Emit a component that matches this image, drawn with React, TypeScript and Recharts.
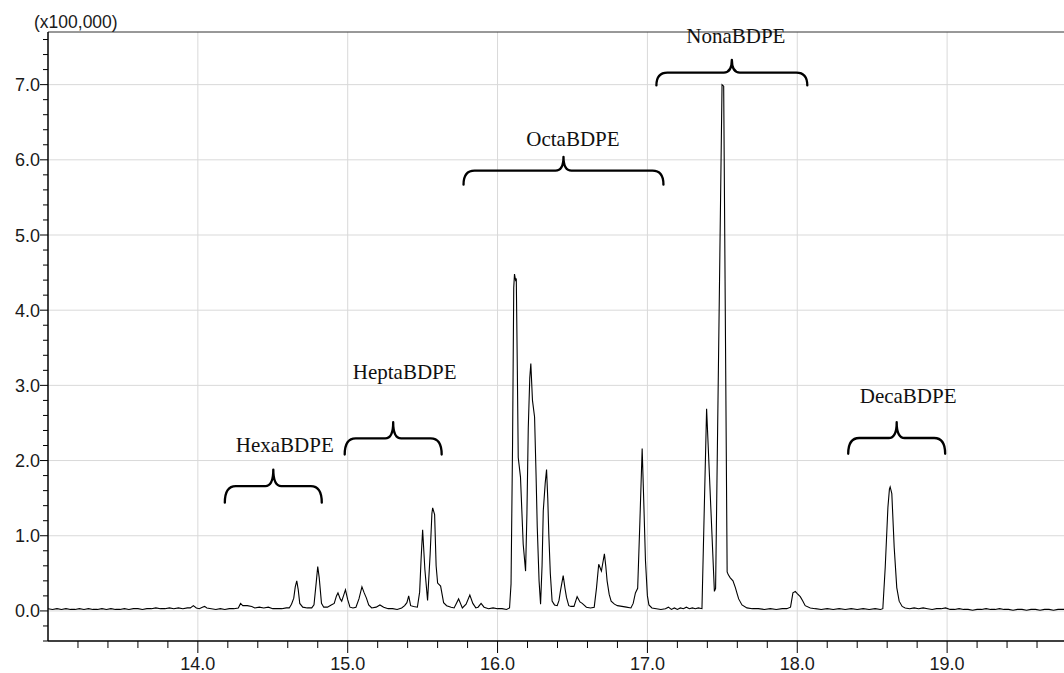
import React from "react";
import {
  LineChart,
  Line,
  XAxis,
  YAxis,
  CartesianGrid,
  ReferenceArea,
  ReferenceDot,
  ReferenceLine,
} from "recharts";

// ---- Chromatogram trace: [retention time (min), intensity (x100,000)] ----
const baselineEarly: number[][] = [
  [13.0, 0.03], [13.03, 0.02], [13.06, 0.03], [13.09, 0.02], [13.12, 0.03], [13.15, 0.02],
  [13.18, 0.02], [13.21, 0.03], [13.24, 0.02], [13.27, 0.03], [13.3, 0.02], [13.33, 0.02],
  [13.36, 0.03], [13.39, 0.02], [13.42, 0.03], [13.45, 0.02], [13.48, 0.02], [13.51, 0.03],
  [13.54, 0.02], [13.57, 0.03], [13.6, 0.03], [13.63, 0.02], [13.66, 0.03], [13.69, 0.03],
  [13.72, 0.04], [13.75, 0.03], [13.78, 0.03], [13.81, 0.04], [13.84, 0.03], [13.87, 0.04],
  [13.9, 0.03], [13.93, 0.04], [13.95, 0.04], [13.97, 0.07], [13.99, 0.04], [14.01, 0.03],
  [14.03, 0.05], [14.045, 0.06], [14.06, 0.04], [14.09, 0.03], [14.12, 0.02], [14.15, 0.03],
  [14.18, 0.02], [14.21, 0.03], [14.24, 0.03], [14.27, 0.04], [14.285, 0.1], [14.3, 0.07],
  [14.33, 0.07], [14.36, 0.06], [14.38, 0.04], [14.41, 0.05], [14.44, 0.04], [14.47, 0.05],
  [14.5, 0.03], [14.53, 0.03], [14.56, 0.03], [14.59, 0.04],
];

const hexaHeptaRegion: number[][] = [
  [14.61, 0.04], [14.625, 0.09], [14.64, 0.17], [14.65, 0.32], [14.66, 0.4], [14.67, 0.28],
  [14.68, 0.1], [14.7, 0.05], [14.73, 0.04], [14.76, 0.04], [14.775, 0.08], [14.79, 0.38],
  [14.8, 0.59], [14.81, 0.44], [14.825, 0.1], [14.84, 0.05], [14.865, 0.05], [14.89, 0.08],
  [14.91, 0.1], [14.925, 0.2], [14.935, 0.24], [14.95, 0.16], [14.96, 0.13], [14.975, 0.22],
  [14.985, 0.28], [15.0, 0.15], [15.015, 0.05], [15.035, 0.04], [15.055, 0.05], [15.075, 0.16],
  [15.095, 0.32], [15.11, 0.24], [15.125, 0.17], [15.14, 0.08], [15.16, 0.04], [15.19, 0.05],
  [15.215, 0.08], [15.24, 0.05], [15.27, 0.03], [15.3, 0.03], [15.33, 0.02], [15.36, 0.04],
  [15.38, 0.07], [15.395, 0.11], [15.407, 0.2], [15.42, 0.07], [15.44, 0.06], [15.465, 0.05],
  [15.48, 0.25], [15.49, 0.7], [15.5, 1.08], [15.515, 0.55], [15.533, 0.14], [15.55, 0.75],
  [15.562, 1.3], [15.567, 1.37], [15.58, 1.28], [15.59, 0.6], [15.6, 0.37], [15.62, 0.33],
  [15.64, 0.11], [15.66, 0.07], [15.69, 0.05], [15.71, 0.04], [15.725, 0.1], [15.74, 0.16],
  [15.765, 0.04], [15.79, 0.09], [15.815, 0.21], [15.835, 0.1], [15.855, 0.04], [15.87, 0.05],
  [15.89, 0.1], [15.91, 0.05], [15.94, 0.03], [15.97, 0.04], [16.0, 0.03], [16.03, 0.03],
  [16.06, 0.02], [16.08, 0.04],
];

const octaRegion: number[][] = [
  [16.09, 0.36], [16.1, 2.2], [16.108, 4.3], [16.113, 4.48], [16.12, 4.4], [16.125, 4.42],
  [16.132, 3.2], [16.138, 2.04], [16.153, 1.78], [16.171, 0.89], [16.187, 0.53], [16.196, 1.3],
  [16.205, 2.44], [16.215, 3.1], [16.222, 3.29], [16.233, 2.8], [16.247, 2.58], [16.257, 1.8],
  [16.265, 1.11], [16.277, 0.4], [16.287, 0.09], [16.297, 0.6], [16.305, 1.33], [16.318, 1.7],
  [16.327, 1.88], [16.335, 1.5], [16.342, 1.02], [16.352, 0.5], [16.364, 0.13], [16.38, 0.08],
  [16.398, 0.07], [16.41, 0.14], [16.42, 0.27], [16.438, 0.47], [16.45, 0.3], [16.46, 0.18],
  [16.475, 0.07], [16.49, 0.06], [16.51, 0.06], [16.531, 0.19], [16.55, 0.12], [16.565, 0.1],
  [16.593, 0.05], [16.62, 0.04], [16.645, 0.05], [16.66, 0.3], [16.675, 0.62], [16.693, 0.53],
  [16.713, 0.76], [16.722, 0.6], [16.731, 0.4], [16.745, 0.22], [16.758, 0.13], [16.78, 0.09],
  [16.8, 0.07], [16.83, 0.06], [16.86, 0.05], [16.89, 0.04], [16.905, 0.1], [16.92, 0.24],
  [16.935, 0.3], [16.95, 1.2], [16.965, 2.16], [16.975, 1.5], [16.987, 0.67], [17.0, 0.2],
  [17.01, 0.08], [17.03, 0.04],
];

const baselineMid: number[][] = [
  [17.06, 0.03], [17.09, 0.02], [17.12, 0.03], [17.14, 0.05], [17.16, 0.02], [17.18, 0.04],
  [17.2, 0.02], [17.22, 0.04], [17.24, 0.03], [17.26, 0.05], [17.28, 0.03], [17.3, 0.04],
  [17.32, 0.03], [17.34, 0.04], [17.364, 0.03],
];

const nonaRegion: number[][] = [
  [17.395, 2.69], [17.447, 0.26], [17.455, 0.3], [17.498, 7.0], [17.509, 6.98],
  [17.532, 0.52], [17.54, 0.48], [17.553, 0.44], [17.571, 0.4], [17.587, 0.31], [17.6, 0.22],
  [17.609, 0.16], [17.631, 0.08], [17.664, 0.04], [17.7, 0.03], [17.74, 0.03], [17.78, 0.02],
  [17.82, 0.03], [17.86, 0.02], [17.9, 0.03], [17.93, 0.03], [17.955, 0.05], [17.971, 0.24],
  [17.987, 0.26], [18.0, 0.23], [18.02, 0.19], [18.035, 0.14], [18.053, 0.07], [18.087, 0.04],
];

const decaRegion: number[][] = [
  [18.12, 0.03], [18.16, 0.02], [18.2, 0.03], [18.24, 0.02], [18.28, 0.03], [18.32, 0.02],
  [18.36, 0.03], [18.4, 0.02], [18.44, 0.03], [18.48, 0.02], [18.52, 0.03], [18.555, 0.02],
  [18.571, 0.03], [18.587, 0.58], [18.605, 1.38], [18.615, 1.62], [18.62, 1.65], [18.631, 1.56],
  [18.647, 0.84], [18.664, 0.31], [18.68, 0.13], [18.7, 0.06], [18.72, 0.04], [18.75, 0.03],
  [18.78, 0.04], [18.81, 0.03], [18.84, 0.04], [18.87, 0.03], [18.9, 0.02], [18.93, 0.03],
  [18.96, 0.03], [18.99, 0.04], [19.02, 0.02], [19.05, 0.02], [19.08, 0.03], [19.11, 0.02],
  [19.14, 0.02], [19.17, 0.01], [19.2, 0.02], [19.23, 0.02], [19.26, 0.03], [19.29, 0.02],
  [19.32, 0.02], [19.35, 0.03], [19.38, 0.02], [19.41, 0.02], [19.44, 0.01], [19.47, 0.02],
  [19.5, 0.02], [19.53, 0.01], [19.56, 0.02], [19.59, 0.02], [19.62, 0.01], [19.65, 0.02],
  [19.68, 0.02], [19.71, 0.01], [19.74, 0.02], [19.78, 0.02],
];

// ---- Congener group annotations ----
const groupNames = ["HexaBDPE", "HeptaBDPE", "OctaBDPE", "NonaBDPE", "DecaBDPE"];
const groupStart = [14.18, 14.98, 15.773, 17.06, 18.34];
const groupEnd = [14.827, 15.627, 17.107, 18.067, 18.987];
const braceLow = [1.44, 2.08, 5.67, 6.99, 2.09];
const braceHigh = [1.88, 2.51, 6.04, 7.33, 2.51];
const labelTime = [14.58, 15.38, 16.503, 17.59, 18.74];
const labelLevel = [2.12, 3.09, 6.19, 7.55, 2.76];

// ---- Axes ----
const xDomain = [13.0, 19.78];
const yDomain = [-0.4, 7.7];
const xTicks = [
  13.2, 13.4, 13.6, 13.8, 14.0, 14.2, 14.4, 14.6, 14.8, 15.0, 15.2, 15.4, 15.6, 15.8, 16.0,
  16.2, 16.4, 16.6, 16.8, 17.0, 17.2, 17.4, 17.6, 17.8, 18.0, 18.2, 18.4, 18.6, 18.8, 19.0,
  19.2, 19.4, 19.6,
];
const yTicks = [
  -0.4, -0.2, 0.0, 0.2, 0.4, 0.6, 0.8, 1.0, 1.2, 1.4, 1.6, 1.8, 2.0, 2.2, 2.4, 2.6, 2.8, 3.0,
  3.2, 3.4, 3.6, 3.8, 4.0, 4.2, 4.4, 4.6, 4.8, 5.0, 5.2, 5.4, 5.6, 5.8, 6.0, 6.2, 6.4, 6.6,
  6.8, 7.0, 7.2, 7.4, 7.6,
];
const xGrid = [14.0, 15.0, 16.0, 17.0, 18.0, 19.0];
const yGrid = [0.0, 1.0, 2.0, 3.0, 4.0, 5.0, 6.0, 7.0];
const scaleTitle = "(x100,000)";

const trace = [
  ...baselineEarly,
  ...hexaHeptaRegion,
  ...octaRegion,
  ...baselineMid,
  ...nonaRegion,
  ...decaRegion,
].map(([t, v]) => ({ t, v }));

const SANS = "'Liberation Sans', Arial, sans-serif";
const SERIF = "'Liberation Serif', 'Times New Roman', serif";

const isMajor = (v: number) => Math.abs(v - Math.round(v)) < 1e-6;

const XTick = (props: any) => {
  const { x, y, payload } = props;
  const v = Number(payload.value);
  const major = isMajor(v);
  return (
    <g>
      <line x1={x} y1={y} x2={x} y2={y + (major ? 12 : 7)} stroke="#000" strokeWidth={1} />
      {major && (
        <text x={x} y={y + 29} textAnchor="middle" fontFamily={SANS} fontSize={18} fill="#1a1a1a">
          {v.toFixed(1)}
        </text>
      )}
    </g>
  );
};

const YTick = (props: any) => {
  const { x, y, payload } = props;
  const v = Number(payload.value);
  const major = isMajor(v) && v >= 0;
  return (
    <g>
      <line x1={x - (major ? 8 : 5)} y1={y} x2={x} y2={y} stroke="#000" strokeWidth={1} />
      {major && (
        <text x={x - 8} y={y + 6.5} textAnchor="end" fontFamily={SANS} fontSize={18} fill="#1a1a1a">
          {v.toFixed(1)}
        </text>
      )}
    </g>
  );
};

const Brace = (p: any) => {
  const { x, y, width, height } = p;
  if (x == null || y == null) return null;
  const x2 = x + width;
  const yb = y + height;
  const ym = y + height / 2;
  const cx = x + width / 2;
  const r = 11;
  const rt = 8;
  const d = `M${x},${yb} Q${x},${ym} ${x + r},${ym} L${cx - rt},${ym} Q${cx},${ym} ${cx},${y} Q${cx},${ym} ${cx + rt},${ym} L${x2 - r},${ym} Q${x2},${ym} ${x2},${yb}`;
  return <path d={d} fill="none" stroke="#000" strokeWidth={2.3} strokeLinecap="round" strokeLinejoin="round" />;
};

const makeLabel = (text: string) => (p: any) => (
  <text x={p.cx} y={p.cy} textAnchor="middle" fontFamily={SERIF} fontSize={21} fill="#111">
    {text}
  </text>
);

export default function App() {
  return (
    <div style={{ position: "relative", width: 1056, height: 665, padding: "8px 0 0 8px" }}>
      <style>{`html{overflow:hidden;} body{margin:0;}`}</style>
      <LineChart
        width={1056}
        height={665}
        data={trace}
        margin={{ top: 24, right: 0, bottom: 0, left: 0 }}
      >
        <CartesianGrid
          stroke="#d9d9d9"
          strokeWidth={1}
          horizontalValues={yGrid}
          verticalValues={xGrid}
        />
        <XAxis
          dataKey="t"
          type="number"
          domain={xDomain}
          allowDataOverflow
          ticks={xTicks}
          interval={0}
          tickSize={0}
          tickMargin={0}
          tickLine={false}
          tick={<XTick />}
          height={32}
          axisLine={{ stroke: "#000", strokeWidth: 1.5 }}
        />
        <YAxis
          type="number"
          domain={yDomain}
          allowDataOverflow
          ticks={yTicks}
          interval={0}
          tickSize={0}
          tickMargin={0}
          tickLine={false}
          tick={<YTick />}
          width={40}
          axisLine={{ stroke: "#000", strokeWidth: 1.5 }}
        />
        <ReferenceLine y={yDomain[1]} stroke="#333" strokeWidth={1} />
        <Line
          type="linear"
          dataKey="v"
          stroke="#000"
          strokeWidth={1.1}
          dot={false}
          activeDot={false}
          isAnimationActive={false}
        />
        {groupNames.map((name, i) => (
          <ReferenceArea
            key={"b" + name}
            x1={groupStart[i]}
            x2={groupEnd[i]}
            y1={braceLow[i]}
            y2={braceHigh[i]}
            shape={Brace}
          />
        ))}
        {groupNames.map((name, i) => (
          <ReferenceDot
            key={"l" + name}
            x={labelTime[i]}
            y={labelLevel[i]}
            r={0}
            shape={makeLabel(name)}
          />
        ))}
      </LineChart>
      <svg
        width={200}
        height={40}
        style={{ position: "absolute", left: 0, top: 0, overflow: "visible" }}
      >
        <text x={34} y={28} fontFamily={SANS} fontSize={17.5} fill="#1a1a1a">
          {scaleTitle}
        </text>
      </svg>
    </div>
  );
}
